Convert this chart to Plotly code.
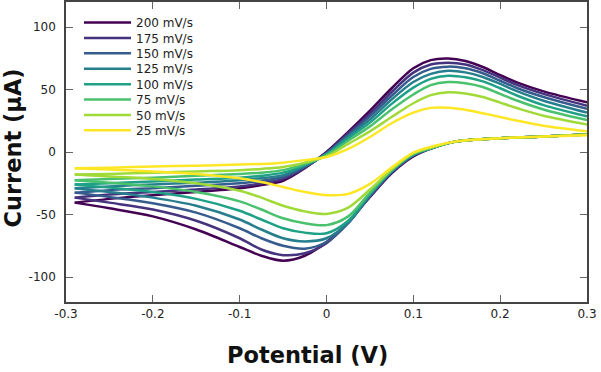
import plotly.graph_objects as go

# Scan rates (legend labels) and colours
RATES = ["200 mV/s", "175 mV/s", "150 mV/s", "125 mV/s", "100 mV/s", "75 mV/s", "50 mV/s", "25 mV/s"]
COLORS = ["#440154", "#46337e", "#365c8d", "#277f8e", "#1fa187", "#4ac16d", "#a0da39", "#fde725"]

# Potential grids (V)
X_FWD = [-0.29, -0.25, -0.2, -0.15, -0.1, -0.075, -0.05, -0.025, 0, 0.025, 0.05, 0.075, 0.1, 0.12, 0.14, 0.16, 0.18, 0.2, 0.22, 0.25, 0.3]
X_REV = [0.3, 0.25, 0.2, 0.15, 0.125, 0.1, 0.075, 0.05, 0.025, 0, -0.025, -0.05, -0.075, -0.1, -0.15, -0.2, -0.25, -0.29]

# Current (uA), forward (anodic) sweep
fwd_200 = [-40.5, -37.5, -34.5, -32, -29, -26.5, -23, -13, 0, 16, 33, 51, 67, 73.5, 74.8, 72.8, 68, 61.5, 55.5, 48.5, 39.7]
fwd_175 = [-36.5, -34, -32, -30, -27.5, -25, -21.5, -12.5, -0.5, 15, 30.5, 48, 63.5, 70, 71.5, 70, 65.5, 59.5, 53.5, 46.5, 37]
fwd_150 = [-32.5, -30.5, -29, -27, -25, -23, -20, -12, -1, 13.5, 28.5, 45, 60, 66.5, 68.3, 67, 63, 57, 51, 44, 34.5]
fwd_125 = [-29, -27.5, -26, -24.5, -22.5, -21, -18.5, -11, -1.5, 12.5, 26, 42, 56, 62.5, 65, 63.7, 60, 54.5, 48.5, 41, 31.5]
fwd_100 = [-26, -25, -23.5, -22, -20.5, -19, -16.5, -10.5, -2, 11, 23.5, 38.5, 51.5, 58.5, 61, 59.8, 56.5, 51, 45, 37.5, 28.5]
fwd_75 = [-22.5, -21.5, -20.5, -19, -17.5, -16.5, -14.5, -9.5, -2.5, 9, 20.5, 34, 46, 53.5, 56, 55, 52, 46.5, 41, 34, 25.5]
fwd_50 = [-18, -17.5, -16.5, -15.5, -14.5, -13.5, -12, -8.5, -3.5, 6.5, 16.5, 28, 39, 45.5, 47.8, 46.8, 44, 39.5, 35, 29, 22]
fwd_25 = [-13, -12.5, -11.5, -11, -10, -9.5, -8.5, -6.5, -4, 2.5, 12, 23, 31.5, 35.3, 35.5, 33.8, 31, 28, 25, 21, 16.5]

# Current (uA), reverse (cathodic) sweep
rev_200 = [14, 12.5, 11, 8.5, 4, -3.5, -17, -36, -56, -72, -83, -87, -83, -76, -62, -51.5, -45, -40.5]
rev_175 = [14, 12.5, 11, 8.5, 4, -3, -16.5, -35.5, -56.5, -73, -81, -82.5, -78, -69, -55, -46, -40.5, -36.5]
rev_150 = [14, 12.5, 11, 8.5, 4, -2.5, -16, -35, -57, -72, -77.3, -75, -69, -61, -48.5, -41, -36, -32.5]
rev_125 = [14, 12.5, 11, 8.5, 4, -2.5, -15.5, -34.5, -56.5, -69, -71.5, -69, -62, -54, -43, -36.5, -32, -29]
rev_100 = [14, 12.5, 11, 8.5, 4, -2, -15, -33.5, -55, -65, -64.5, -61, -54, -47, -37.5, -32, -28.5, -26]
rev_75 = [14, 12.5, 11, 8.5, 4, -1.5, -14.5, -32.5, -51.5, -58.5, -57, -53, -46, -39.5, -32, -27.5, -24.5, -22.5]
rev_50 = [14, 12.5, 11, 8.5, 4.5, -1, -14, -30, -44.5, -49.5, -47.5, -43, -36.5, -31, -25, -21.5, -19.5, -18]
rev_25 = [13.5, 12.5, 11, 8.5, 5, -0.5, -12.5, -25.5, -33.5, -34.5, -32, -28, -24, -21, -17.5, -15.5, -14, -13]

FWD = [fwd_200, fwd_175, fwd_150, fwd_125, fwd_100, fwd_75, fwd_50, fwd_25]
REV = [rev_200, rev_175, rev_150, rev_125, rev_100, rev_75, rev_50, rev_25]

X_TICKS = [-0.3, -0.2, -0.1, 0, 0.1, 0.2, 0.3]
X_TICKTEXT = ["-0.3", "-0.2", "-0.1", "0", "0.1", "0.2", "0.3"]
Y_TICKS = [-100, -50, 0, 50, 100]
Y_TICKTEXT = ["-100", "-50", "0", "50", "100"]

FONT = "DejaVu Sans"
W, H = 601, 372
ML, MR, MT, MB = 66, 14, 0, 70
PH = H - MT - MB

fig = go.Figure()
legends = {}
for i, (name, col, f, r) in enumerate(zip(RATES, COLORS, FWD, REV)):
    lname = "legend" if i == 0 else f"legend{i+1}"
    fig.add_trace(go.Scatter(
        x=X_FWD + [None] + X_REV,
        y=f + [None] + r,
        mode="lines",
        name=name,
        line=dict(color=col, width=2.5, shape="spline", smoothing=0.9),
        legend=lname,
    ))
    py = 20.7 + i * 15.5
    legends[lname] = dict(
        x=(79 - ML) / (W - ML - MR), xanchor="left",
        y=1 - (py - MT) / PH, yanchor="middle",
        bgcolor="rgba(0,0,0,0)", borderwidth=0,
        font=dict(family=FONT, size=12, color="#222"),
        itemwidth=47,
    )

fig.update_layout(
    width=W, height=H,
    margin=dict(l=ML, r=MR, t=MT, b=MB),
    paper_bgcolor="white", plot_bgcolor="white",
    font=dict(family=FONT, size=12, color="#222"),
    showlegend=True,
    **legends,
)
fig.update_xaxes(
    range=[-0.3, 0.3], tickvals=X_TICKS, ticktext=X_TICKTEXT,
    showline=True, mirror="ticks", linecolor="#444", linewidth=1.5,
    ticks="inside", ticklen=7, tickwidth=1.2, tickcolor="#666",
    showgrid=False, zeroline=False,
    tickfont=dict(family=FONT, size=12, color="#222"),
)
fig.update_yaxes(
    range=[-120, 120], tickvals=Y_TICKS, ticktext=Y_TICKTEXT,
    showline=True, mirror="ticks", linecolor="#444", linewidth=1.5,
    ticks="inside", ticklen=7, tickwidth=1.2, tickcolor="#666",
    showgrid=False, zeroline=False, ticklabelstandoff=6,
    tickfont=dict(family=FONT, size=12, color="#222"),
)
fig.add_annotation(
    text="<b>Potential (V)</b>", xref="paper", yref="paper",
    x=(307 - ML) / (W - ML - MR), y=1 - (355 - MT) / PH,
    xanchor="center", yanchor="middle", showarrow=False,
    font=dict(family=FONT, size=22.5, color="#111"),
)
fig.add_annotation(
    text="<b>Current (μA)</b>", xref="paper", yref="paper",
    x=(13 - ML) / (W - ML - MR), y=1 - (147.5 - MT) / PH,
    xanchor="center", yanchor="middle", showarrow=False, textangle=-90,
    font=dict(family=FONT, size=22.5, color="#111"),
)
fig.write_html("out.html", config={"displayModeBar": False},
               post_script="document.body.style.margin='0';")
